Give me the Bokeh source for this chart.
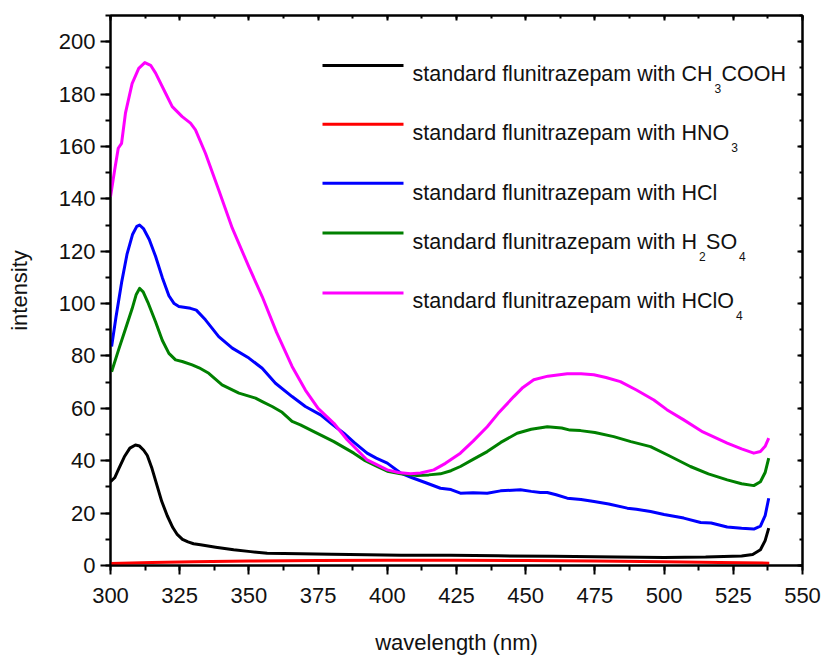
from bokeh.plotting import figure
from bokeh.models import Range1d, SingleIntervalTicker, LinearAxis, Label
from bokeh.embed import file_html
from bokeh.resources import INLINE

# ---------------- data ----------------
x_ch3cooh = [300, 301.5, 303, 305, 307, 309, 310.5, 312, 313.3, 315, 316.9, 318.5, 320.5, 322.5, 324,
             326, 328, 330, 332.5, 338, 344.5, 350.6, 356.6, 368.6, 380, 392.7, 405, 422.8, 440, 460,
             483, 500, 515, 528, 532, 534.8, 536.5, 537.8]
y_ch3cooh = [32, 33.5, 37, 41.5, 44.8, 46, 45.6, 44, 42, 37, 30.2, 24.5, 19, 14.5, 12,
             10, 9, 8.3, 7.9, 7, 6, 5.3, 4.7, 4.5, 4.3, 4.1, 3.9, 3.9, 3.7, 3.5,
             3.2, 3.1, 3.2, 3.6, 4.2, 6, 9.5, 14.3]

x_hno3 = [300, 315, 330, 350, 375, 400, 425, 450, 475, 500, 520, 538]
y_hno3 = [0.8, 1.1, 1.4, 1.7, 1.9, 2.0, 2.0, 1.9, 1.7, 1.4, 1.1, 0.9]

x_hcl = [300.4, 302, 304, 306, 308, 309.5, 310.5, 312, 314, 316.3, 318.7, 321.1, 323, 324.7, 328.9,
         331, 334.3, 339.1, 344, 350, 354.8, 359.6, 365.6, 370.4, 375.9, 380, 384.3, 388, 392.7,
         396, 400, 404.8, 409, 414.4, 419.2, 423, 426.4, 431, 436.1, 440.9, 448.1, 452, 455.3,
         457.8, 461, 465, 470, 474.7, 480, 486.7, 490, 495.1, 500, 507.1, 513.2, 517, 522.8, 528,
         532.4, 534.8, 536.5, 537.8]
y_hcl = [83.6, 95, 108, 119, 126.5, 129.5, 130, 128.5, 124.5, 118, 110, 103, 100, 98.9, 98.2,
         97.5, 93.8, 87.4, 83, 79.2, 75.3, 69.6, 64.5, 60.7, 57.5, 54, 50.5, 47, 42.9,
         41, 39.1, 35.3, 33.5, 31.4, 29.5, 29, 27.6, 27.8, 27.6, 28.5, 28.9, 28.3, 27.9,
         27.9, 27, 25.7, 25.2, 24.4, 23.5, 21.9, 21.5, 20.6, 19.5, 18.1, 16.4, 16.2, 14.7, 14.2,
         13.9, 15, 19, 25.7]

x_h2so4 = [300.4, 303, 305.4, 307.8, 309.3, 310.5, 311.8, 313.5, 316.3, 318.7, 321.1, 323.5, 325.9,
           329.5, 332, 335.5, 340.3, 346.4, 352.4, 355, 358.4, 362, 365.6, 368.6, 374, 380.7, 387.9,
           392, 396.3, 400, 404.8, 410.8, 415, 419.2, 423, 426.4, 431, 436.1, 441, 446.9, 452,
           457.8, 463, 466, 469.8, 475, 481.8, 488, 495.1, 502, 509.5, 516, 522.8, 528, 532.4,
           534.8, 536.5, 537.8]
y_h2so4 = [74, 82.6, 90.3, 98, 103.5, 105.8, 104.5, 100.5, 93, 86, 81, 78.5, 77.9,
           76.6, 75.5, 73.4, 69, 65.8, 63.9, 62.5, 60.7, 58.5, 55, 53.7, 50.8, 47.3, 42.9,
           40, 37.8, 36, 35, 34.4, 34.6, 35, 36.2, 37.8, 40.5, 43.5, 47, 50.5, 52,
           53, 52.5, 51.7, 51.5, 50.8, 49.2, 47.3, 45.4, 41.8, 37.8, 35, 32.7, 31.2, 30.5,
           32, 35.5, 41]

x_hclo4 = [300, 301.5, 302.8, 304, 305.4, 307.8, 310.2, 312.4, 314.5, 316.3, 319.9, 322.3, 325.9, 328.9,
           330.7, 334.3, 339.1, 344, 350, 354.8, 360, 365.6, 370.4, 375, 380.7, 385.5, 392.7, 400,
           404, 408.4, 412, 416.8, 421, 426.4, 431, 436.1, 440, 445.7, 449, 452.9, 458, 465, 470,
           474.6, 479, 484.2, 490, 496.3, 501, 507.1, 514, 522.8, 528, 532.4, 534.8, 536.5, 537.8]
y_hclo4 = [140.8, 151, 159.3, 161.2, 172.7, 184, 189.8, 192, 191, 188, 180.3, 175.2, 171.4, 168.9,
           166.3, 157.4, 143.4, 128.8, 114, 102.7, 89, 76, 67, 60, 54.3, 48, 40.3, 36.5,
           35.5, 35, 35.3, 36.5, 39, 42.9, 47.5, 53, 58, 64.5, 68, 70.9, 72.3, 73.2, 73.2,
           72.8, 71.8, 70.2, 67, 63.2, 59.5, 55.6, 51, 46.7, 44.5, 42.9, 43.5, 45.5, 48.6]

x_ticks_step = 25
y_ticks_step = 20

series = [
    (x_ch3cooh, y_ch3cooh, "black"),
    (x_hno3, y_hno3, "#ff0000"),
    (x_hcl, y_hcl, "#0000ff"),
    (x_h2so4, y_h2so4, "#008000"),
    (x_hclo4, y_hclo4, "#ff00ff"),
]

# ---------------- figure ----------------
FONT = "Liberation Sans"
p = figure(width=821, height=657, x_range=Range1d(300, 550), y_range=Range1d(0, 210),
           output_backend="svg", toolbar_location=None,
           min_border_left=110, min_border_right=19, min_border_top=15, min_border_bottom=91)
p.xgrid.visible = False
p.ygrid.visible = False
p.outline_line_color = "black"
p.outline_line_width = 2
p.background_fill_color = "white"
p.border_fill_color = "white"

def style_axis(ax, tick_out, minor_out, tick_in=0, minor_in=0):
    ax.axis_line_width = 2
    ax.axis_line_color = "black"
    ax.major_tick_line_width = 2
    ax.minor_tick_line_width = 2
    ax.major_tick_line_color = "black"
    ax.minor_tick_line_color = "black"
    ax.major_tick_out = tick_out
    ax.major_tick_in = tick_in
    ax.minor_tick_out = minor_out
    ax.minor_tick_in = minor_in
    ax.major_label_text_font = FONT
    ax.major_label_text_font_size = "22px"
    ax.major_label_text_color = "#111111"
    ax.axis_label_text_font = FONT
    ax.axis_label_text_font_size = "22px"
    ax.axis_label_text_font_style = "normal"
    ax.axis_label_text_color = "#111111"

xa = p.xaxis[0]
xa.ticker = SingleIntervalTicker(interval=x_ticks_step, num_minor_ticks=2)
style_axis(xa, 9, 5)
xa.major_label_standoff = 13
xa.axis_label = "wavelength (nm)"
xa.axis_label_standoff = 24

ya = p.yaxis[0]
ya.ticker = SingleIntervalTicker(interval=y_ticks_step, num_minor_ticks=2)
style_axis(ya, 10, 5)
ya.major_label_standoff = 5
ya.axis_label = "intensity"
ya.axis_label_standoff = 24

top = LinearAxis(ticker=SingleIntervalTicker(interval=x_ticks_step, num_minor_ticks=2))
style_axis(top, 0, 0, 5, 3)
top.major_label_text_font_size = "0px"
top.major_label_text_color = None
top.major_label_standoff = 0
p.add_layout(top, "above")

right = LinearAxis(ticker=SingleIntervalTicker(interval=y_ticks_step, num_minor_ticks=2))
style_axis(right, 0, 0, 5, 3)
right.major_label_text_font_size = "0px"
right.major_label_text_color = None
right.major_label_standoff = 0
p.add_layout(right, "right")

for xs, ys, c in series:
    p.line(xs, ys, line_color=c, line_width=3, line_join="round")

# ---------------- legend (drawn by hand, so the subscripts can be placed) ----------------
FX0, FX1, FY0, FY1 = 110.0, 802.0, 15.0, 566.0
def dx(px):
    return 300 + (px - FX0) * 250.0 / (FX1 - FX0)
def dy(py):
    return (FY1 - py) * 210.0 / (FY1 - FY0)

# Arial / Liberation Sans advance widths (per 1000 em) for placing the pieces one after another
W = {' ': 278, 'a': 556, 'd': 556, 'e': 556, 'f': 278, 'h': 556, 'i': 222, 'l': 222, 'm': 833,
     'n': 556, 'p': 556, 'r': 333, 's': 500, 't': 278, 'u': 556, 'w': 722, 'z': 500,
     'C': 722, 'H': 722, 'N': 722, 'O': 778, 'S': 667, '2': 556, '3': 556, '4': 556}
def tw(txt, fs):
    return sum(W.get(ch, 556) for ch in txt) * fs / 1000.0

MAIN, SUB = 21.5, 12
legend_rows = [
    # swatch y px, colour, baseline px, pieces (text, is_subscript)
    (65, "black", 74, [("standard flunitrazepam with CH", False), ("3", True), ("COOH", False)]),
    (124, "#ff0000", 133, [("standard flunitrazepam with HNO", False), ("3", True)]),
    (183, "#0000ff", 192.5, [("standard flunitrazepam with HCl", False)]),
    (233, "#008000", 241.5, [("standard flunitrazepam with H", False), ("2", True), ("SO", False), ("4", True)]),
    (293, "#ff00ff", 301.5, [("standard flunitrazepam with HClO", False), ("4", True)]),
]
for sy, col, base, pieces in legend_rows:
    p.line([dx(322), dx(403)], [dy(sy), dy(sy)], line_color=col, line_width=3)
    cx = 412.0
    for txt, sub in pieces:
        fs = SUB if sub else MAIN
        if sub:
            cx += 2
        p.add_layout(Label(x=dx(cx), y=dy(base + (14.5 if sub else 0)), text=txt, text_font=FONT,
                           text_font_size=f"{fs}px", text_baseline="alphabetic",
                           text_align="left", text_color="#111111"))
        cx += tw(txt, fs) + (0.5 if sub else 0)

open("out.html", "w").write(file_html(p, INLINE))
